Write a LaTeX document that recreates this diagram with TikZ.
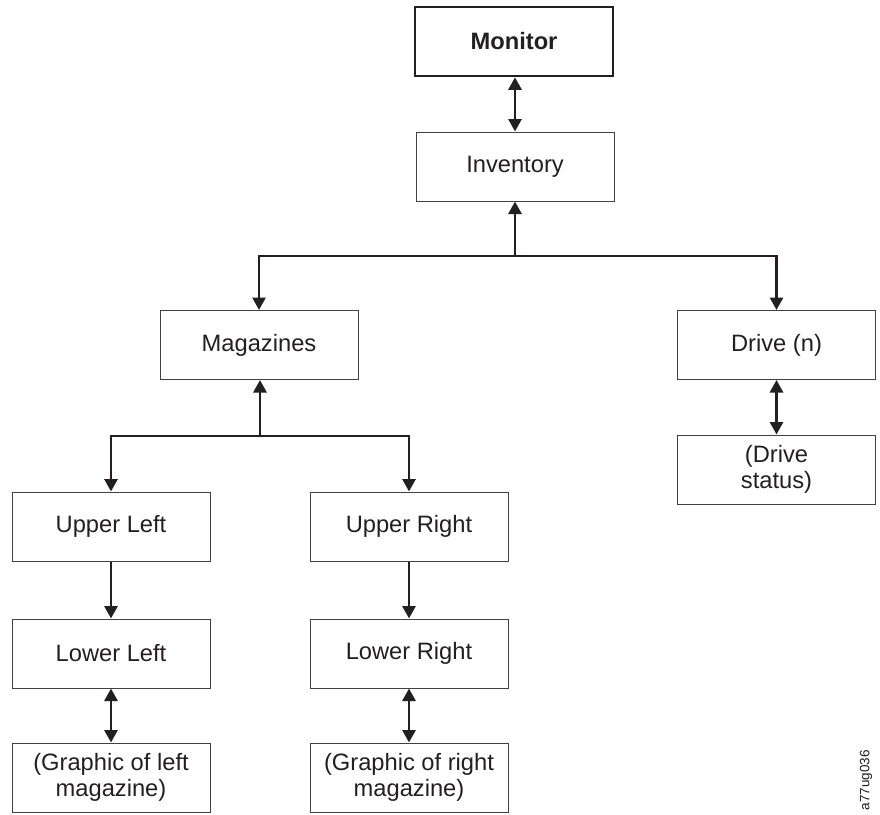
\documentclass[tikz,border=0pt]{standalone}
\usepackage{fontspec}
\setmainfont{Liberation Sans}
\usetikzlibrary{arrows.meta}
\definecolor{ink}{HTML}{231F20}
\begin{document}
\begin{tikzpicture}[x=1pt,y=-1pt,
  box/.style={draw=ink!85, line width=1pt, minimum width=198pt, minimum height=69pt,
    inner sep=0pt, align=center, text=ink, font=\fontsize{23.7}{25.5}\selectfont},
  topbox/.style={box, draw=ink, line width=2.6pt, font=\fontsize{23.7}{25.5}\selectfont\bfseries},
  conn/.style={draw=ink, line width=2.8pt, -{Triangle[length=12.5pt,width=13pt]}},
  dconn/.style={draw=ink, line width=2.8pt, {Triangle[length=12.5pt,width=13pt]}-{Triangle[length=12.5pt,width=13pt]}},
  tag/.style={text=ink, font=\fontsize{13.5}{15}\selectfont, rotate=90}
]
\useasboundingbox (0,0) rectangle (880,814);
\node[topbox] (mon) at (514,41.5) {Monitor};
\node[box] (inv) at (515,166.5) {Inventory};
\node[box] (mag) at (259,345) {Magazines};
\node[box] (drv) at (776.5,345) {Drive (n)};
\node[box] (dst) at (776.5,469.5) {(Drive\\status)};
\node[box] (ul) at (111,526.5) {Upper Left};
\node[box] (ur) at (409,526.5) {Upper Right};
\node[box] (ll) at (111,653.5) {Lower Left};
\node[box] (lr) at (409,653.5) {Lower Right};
\node[box] (gl) at (111,777.5) {(Graphic of left\\magazine)};
\node[box] (gr) at (409,777.5) {(Graphic of right\\magazine)};
\node[tag] (id) at (866,780) {a77ug036};

\coordinate (b1) at (515,256);
\coordinate (b2) at (260,436);

\draw[dconn] (mon.south -| inv.south) -- (inv.north);
\draw[conn] (b1) -- (inv.south);
\draw[conn] (b1) -| (mag.north);
\draw[conn] (b1) -| (drv.north);
\draw[dconn] (drv.south) -- (dst.north);
\draw[conn] (b2) -- (b2 |- mag.south);
\draw[conn] (b2) -| (ul.north);
\draw[conn] (b2) -| (ur.north);
\draw[conn] (ul.south) -- (ll.north);
\draw[conn] (ur.south) -- (lr.north);
\draw[dconn] (ll.south) -- (gl.north);
\draw[dconn] (lr.south) -- (gr.north);
\end{tikzpicture}
\end{document}
